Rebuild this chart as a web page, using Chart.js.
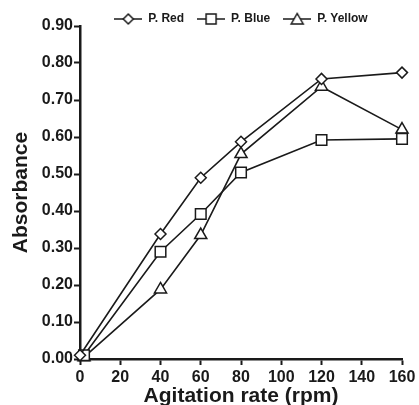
<!DOCTYPE html>
<html>
<head>
<meta charset="utf-8">
<script src="https://cdn.jsdelivr.net/npm/chart.js@4/dist/chart.umd.min.js"></script>
<style>
  html, body { margin: 0; padding: 0; background: #fff; }
  #wrap { width: 419px; height: 405px; }
</style>
</head>
<body>
<div id="wrap"><canvas id="absChart" width="419" height="405"></canvas></div>
<script>
// Absorbance vs agitation rate
const redX = [0, 40, 60, 80, 120, 160];
const redY = [0.01, 0.338, 0.49, 0.587, 0.757, 0.774];
const blueX = [2, 40, 60, 80, 120, 160];
const blueY = [0.01, 0.29, 0.392, 0.504, 0.592, 0.595];
const yellowX = [2, 40, 60, 80, 120, 160];
const yellowY = [0.005, 0.188, 0.335, 0.554, 0.736, 0.62];
const seriesNames = ['P. Red', 'P. Blue', 'P. Yellow'];
const markers = ['rectRot', 'rect', 'triangle'];
const markerSizes = [5.5, 7.5, 7];

const FONT = 'Arial, "Liberation Sans", sans-serif';
const INK = '#1a1a1a';

function toPoints(xs, ys) {
    return xs.map((x, i) => ({ x: x, y: ys[i] }));
}

// legend swatch: short line with the marker in the middle
function legendSwatch(style) {
    const c = document.createElement('canvas');
    c.width = 28;
    c.height = 14;
    const ctx = c.getContext('2d');
    ctx.strokeStyle = INK;
    ctx.lineWidth = 1.5;
    ctx.beginPath();
    ctx.moveTo(0, 7);
    ctx.lineTo(28, 7);
    ctx.stroke();
    ctx.fillStyle = '#fff';
    ctx.beginPath();
    if (style === 'rectRot') {
        ctx.moveTo(14, 2); ctx.lineTo(19, 7); ctx.lineTo(14, 12); ctx.lineTo(9, 7);
    } else if (style === 'rect') {
        ctx.rect(9, 2, 10, 10);
    } else {
        ctx.moveTo(14, 1.5); ctx.lineTo(20, 12); ctx.lineTo(8, 12);
    }
    ctx.closePath();
    ctx.fill();
    ctx.stroke();
    return c;
}

const swatches = markers.map(legendSwatch);

function makeDataset(i, xs, ys) {
    return {
        label: seriesNames[i],
        data: toPoints(xs, ys),
        borderColor: INK,
        borderWidth: 1.6,
        pointStyle: markers[i],
        pointRadius: markerSizes[i],
        pointBackgroundColor: '#fff',
        pointBorderColor: INK,
        pointBorderWidth: 1.5,
        tension: 0,
        fill: false,
        clip: false
    };
}

new Chart(document.getElementById('absChart'), {
    type: 'line',
    data: {
        datasets: [
            makeDataset(0, redX, redY),
            makeDataset(1, blueX, blueY),
            makeDataset(2, yellowX, yellowY)
        ]
    },
    options: {
        responsive: false,
        animation: false,
        layout: { padding: { left: 0, right: 17, top: 0, bottom: 0 } },
        scales: {
            x: {
                type: 'linear',
                min: 0,
                max: 160,
                afterFit: function(scale) { scale.height = 46; },
                ticks: {
                    stepSize: 20,
                    color: INK,
                    padding: 3,
                    font: { family: FONT, size: 16, weight: 'bold' }
                },
                grid: { drawOnChartArea: false, tickLength: 6, color: INK, tickWidth: 2 },
                border: { color: INK, width: 2.5 },
                title: {
                    display: true,
                    text: 'Agitation rate (rpm)',
                    color: INK,
                    padding: { top: 0, bottom: -4 },
                    font: { family: FONT, size: 21, weight: 'bold' }
                }
            },
            y: {
                min: 0,
                max: 0.9,
                afterFit: function(scale) { scale.width = 80; },
                ticks: {
                    stepSize: 0.1,
                    color: INK,
                    padding: 1,
                    font: { family: FONT, size: 16, weight: 'bold' },
                    callback: function(value) { return value.toFixed(2); }
                },
                grid: { drawOnChartArea: false, tickLength: 6, color: INK, tickWidth: 2 },
                border: { color: INK, width: 2.5 },
                title: {
                    display: true,
                    text: 'Absorbance',
                    color: INK,
                    padding: { top: 9, bottom: 0 },
                    font: { family: FONT, size: 21, weight: 'bold' }
                }
            }
        },
        plugins: {
            tooltip: { enabled: false },
            legend: {
                display: true,
                position: 'top',
                fullSize: false,
                maxHeight: 26,
                labels: {
                    usePointStyle: true,
                    pointStyleWidth: 28,
                    padding: 13,
                    color: INK,
                    font: { family: FONT, size: 12, weight: 'bold' },
                    generateLabels: function(chart) {
                        return chart.data.datasets.map((ds, i) => ({
                            text: ds.label,
                            pointStyle: swatches[i],
                            fillStyle: '#fff',
                            strokeStyle: INK,
                            lineWidth: 0,
                            fontColor: INK,
                            hidden: false,
                            datasetIndex: i
                        }));
                    }
                }
            }
        }
    }
});
</script>
</body>
</html>
